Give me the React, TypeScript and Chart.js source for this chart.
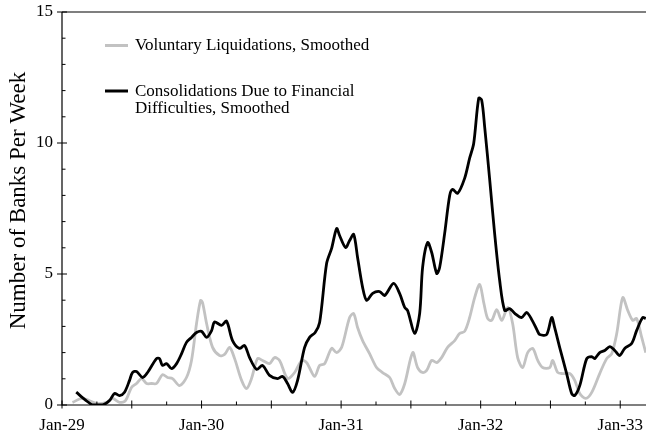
import React, { useEffect, useRef } from "react";
import { Chart, registerables } from "chart.js";

Chart.register(...registerables);

// Decimal years and banks per week
const consolYears = [
  1929.102, 1929.173, 1929.221, 1929.29, 1929.341, 1929.376, 1929.412, 1929.448, 1929.484, 1929.505,
  1929.534, 1929.577, 1929.613, 1929.677, 1929.699, 1929.72, 1929.749, 1929.785, 1929.821, 1929.857,
  1929.892, 1929.928, 1929.964, 1930.0, 1930.036, 1930.072, 1930.093, 1930.143, 1930.179, 1930.222,
  1930.272, 1930.308, 1930.344, 1930.394, 1930.437, 1930.487, 1930.545, 1930.581, 1930.616, 1930.652,
  1930.688, 1930.738, 1930.774, 1930.814, 1930.846, 1930.896, 1930.932, 1930.968, 1930.989, 1931.032,
  1931.061, 1931.09, 1931.118, 1931.154, 1931.183, 1931.226, 1931.276, 1931.312, 1931.376, 1931.419,
  1931.455, 1931.477, 1931.527, 1931.563, 1931.584, 1931.62, 1931.649, 1931.685, 1931.706, 1931.742,
  1931.778, 1931.799, 1931.835, 1931.885, 1931.921, 1931.95, 1931.986, 1932.007, 1932.029, 1932.065,
  1932.1, 1932.136, 1932.172, 1932.208, 1932.244, 1932.294, 1932.33, 1932.369, 1932.405, 1932.423,
  1932.473, 1932.509, 1932.53, 1932.566, 1932.616, 1932.652, 1932.674, 1932.71, 1932.76, 1932.796,
  1932.817, 1932.853, 1932.889, 1932.925, 1932.961, 1932.996, 1933.032, 1933.082, 1933.118, 1933.161,
  1933.183,
];
const consolValues = [
  0.49, 0.17, 0, 0, 0.17, 0.44, 0.36, 0.49, 0.94, 1.24,
  1.28, 1.05, 1.24, 1.77, 1.77, 1.51, 1.58, 1.39, 1.58, 1.96,
  2.39, 2.58, 2.77, 2.81, 2.58, 2.84, 3.17, 3.04, 3.2, 2.46,
  2.16, 2.27, 1.81, 1.36, 1.51, 1.13, 1.01, 1.09, 0.82, 0.48,
  0.94, 2.19, 2.58, 2.77, 3.15, 5.4, 5.98, 6.74, 6.47, 6.01,
  6.28, 6.51, 5.63, 4.49, 3.99, 4.26, 4.33, 4.18, 4.64, 4.26,
  3.73, 3.6, 2.73, 3.5, 5.25, 6.2, 5.82, 5.02, 5.25, 6.55,
  8.0, 8.23, 8.08, 8.65, 9.42, 9.98, 11.71, 11.64, 10.6, 8.58,
  6.55, 4.76, 3.61, 3.68, 3.5, 3.34, 3.53, 3.23, 2.85, 2.69,
  2.69, 3.34, 2.96, 2.2, 1.2, 0.44, 0.36, 0.74, 1.77, 1.85,
  1.77, 2.0, 2.08, 2.23, 2.08, 1.89, 2.16, 2.35, 2.85, 3.34,
  3.3,
];

const volYears = [
  1929.075, 1929.147, 1929.247, 1929.319, 1929.362, 1929.412, 1929.455, 1929.498, 1929.534, 1929.57,
  1929.606, 1929.642, 1929.677, 1929.72, 1929.756, 1929.792, 1929.842, 1929.892, 1929.928, 1929.964,
  1929.993, 1930.007, 1930.036, 1930.079, 1930.129, 1930.165, 1930.201, 1930.237, 1930.287, 1930.323,
  1930.358, 1930.401, 1930.437, 1930.487, 1930.523, 1930.559, 1930.616, 1930.667, 1930.717, 1930.753,
  1930.81, 1930.846, 1930.882, 1930.932, 1930.968, 1931.004, 1931.061, 1931.09, 1931.118, 1931.154,
  1931.204, 1931.254, 1931.297, 1931.348, 1931.384, 1931.419, 1931.455, 1931.513, 1931.548, 1931.584,
  1931.613, 1931.649, 1931.685, 1931.72, 1931.763, 1931.814, 1931.849, 1931.885, 1931.921, 1931.957,
  1931.993, 1932.022, 1932.05, 1932.079, 1932.115, 1932.151, 1932.194, 1932.229, 1932.265, 1932.301,
  1932.337, 1932.373, 1932.409, 1932.444, 1932.495, 1932.516, 1932.552, 1932.588, 1932.638, 1932.674,
  1932.71, 1932.753, 1932.796, 1932.853, 1932.903, 1932.939, 1932.975, 1933.018, 1933.054, 1933.09,
  1933.118, 1933.154, 1933.183,
];
const volValues = [
  0.1, 0.25, 0.06, 0.1, 0.25, 0.1, 0.17, 0.67, 0.82, 1.01,
  0.82, 0.82, 0.82, 1.16, 1.05, 1.01, 0.74, 1.05, 1.7, 3.11,
  3.99, 3.91, 3.11, 2.2, 1.89, 1.93, 2.2, 1.77, 0.94, 0.63,
  1.01, 1.77, 1.7, 1.58, 1.81, 1.7, 1.01, 1.24, 1.7, 1.62,
  1.09, 1.51, 1.58, 2.16, 2.0, 2.2, 3.34, 3.49, 2.96, 2.46,
  1.96, 1.43, 1.24, 1.05, 0.63, 0.4, 0.8, 2.0, 1.43, 1.24,
  1.32, 1.7, 1.62, 1.81, 2.2, 2.46, 2.73, 2.81, 3.34, 4.1,
  4.6, 3.91, 3.3, 3.23, 3.64, 3.23, 3.73, 3.11, 1.81, 1.43,
  2.0, 2.16, 1.7, 1.43, 1.43, 1.7, 1.24, 1.2, 1.2, 0.94,
  0.44, 0.25, 0.48, 1.2, 1.77, 1.96, 2.73, 4.1, 3.61, 3.23,
  3.3, 2.58, 2.0,
];

const tickYears = [1929, 1930, 1931, 1932, 1933];
const tickLabels = ["Jan-29", "Jan-30", "Jan-31", "Jan-32", "Jan-33"];
const yTicks = [0, 5, 10, 15];
const volLabel = ["Voluntary Liquidations, Smoothed"];
const consolLabel = ["Consolidations Due to Financial", "Difficulties, Smoothed"];
const yTitle = "Number of Banks Per Week";

const SERIF = '"Liberation Serif", "Times New Roman", serif';
const GREY = "#c2c2c2";

const decorPlugin = {
  id: "decor",
  afterDatasetsDraw(chart: any) {
    const { ctx, chartArea, scales } = chart;
    const xs = scales.x;
    const ys = scales.y;
    const left = chartArea.left;
    const base = ys.getPixelForValue(0);
    const top = ys.getPixelForValue(15);
    ctx.save();
    ctx.strokeStyle = "#000";
    ctx.lineWidth = 1.2;
    ctx.beginPath();
    ctx.moveTo(left, top);
    ctx.lineTo(chartArea.right, top);
    ctx.moveTo(left, top);
    ctx.lineTo(left, base);
    ctx.lineTo(chartArea.right, base);
    ctx.stroke();
    // x ticks every quarter
    ctx.lineWidth = 1;
    ctx.beginPath();
    for (let q = 0; q <= 18; q++) {
      const v = 1929 + q * 0.25;
      const px = xs.getPixelForValue(v);
      if (q % 2 === 0) {
        ctx.moveTo(px, base - 4.5);
        ctx.lineTo(px, base + 3.5);
      } else {
        ctx.moveTo(px, base - 3.5);
        ctx.lineTo(px, base);
      }
    }
    // y ticks
    for (let v = 0; v <= 15; v++) {
      const py = ys.getPixelForValue(v);
      if (v % 5 === 0) {
        ctx.moveTo(left - 5, py);
        ctx.lineTo(left + 5, py);
      } else {
        ctx.moveTo(left, py);
        ctx.lineTo(left + 3.5, py);
      }
    }
    ctx.stroke();
    ctx.restore();
  },
  afterDraw(chart: any) {
    const { ctx } = chart;
    ctx.save();
    // y title
    ctx.fillStyle = "#000";
    ctx.font = `23px ${SERIF}`;
    ctx.textAlign = "center";
    ctx.textBaseline = "alphabetic";
    ctx.translate(24.5, 200.5);
    ctx.rotate(-Math.PI / 2);
    ctx.fillText(yTitle, 0, 0);
    ctx.restore();

    ctx.save();
    ctx.lineWidth = 3;
    ctx.strokeStyle = GREY;
    ctx.beginPath();
    ctx.moveTo(105, 45.5);
    ctx.lineTo(128, 45.5);
    ctx.stroke();
    ctx.strokeStyle = "#000";
    ctx.beginPath();
    ctx.moveTo(105, 91);
    ctx.lineTo(128, 91);
    ctx.stroke();
    ctx.fillStyle = "#000";
    ctx.font = `17px ${SERIF}`;
    ctx.textAlign = "left";
    ctx.textBaseline = "middle";
    volLabel.forEach((t, i) => ctx.fillText(t, 135, 46 + i * 17));
    consolLabel.forEach((t, i) => ctx.fillText(t, 135, 91.5 + i * 17.5));
    ctx.restore();
  },
};

export default function App() {
  const ref = useRef<HTMLCanvasElement>(null);
  useEffect(() => {
    if (!ref.current) return;
    const chart = new Chart(ref.current, {
      type: "line",
      data: {
        datasets: [
          {
            label: "Consolidations Due to Financial Difficulties, Smoothed",
            data: consolYears.map((x, i) => ({ x, y: consolValues[i] })),
            borderColor: "#000",
            borderWidth: 2.8,
            pointRadius: 0,
            tension: 0.3,
            fill: false,
          },
          {
            label: "Voluntary Liquidations, Smoothed",
            data: volYears.map((x, i) => ({ x, y: volValues[i] })),
            borderColor: GREY,
            borderWidth: 2.8,
            pointRadius: 0,
            tension: 0.3,
            fill: false,
          },
        ],
      },
      options: {
        responsive: false,
        animation: false,
        devicePixelRatio: 1,
        layout: { padding: { top: 12, right: 30, left: 0, bottom: 0 } },
        plugins: {
          legend: { display: false },
          tooltip: { enabled: false },
        },
        scales: {
          x: {
            type: "linear",
            min: 1929,
            max: 1933.5,
            grid: { display: false, drawTicks: false, tickLength: 0 },
            border: { display: false },
            afterBuildTicks: (s: any) => {
              s.ticks = tickYears.map((v) => ({ value: v }));
            },
            afterFit: (s: any) => {
              s.height = 32;
            },
            ticks: {
              autoSkip: false,
              maxRotation: 0,
              minRotation: 0,
              padding: 10,
              color: "#000",
              font: { family: SERIF, size: 17 },
              callback: (v: any) => {
                const i = tickYears.indexOf(Number(v));
                return i >= 0 ? tickLabels[i] : "";
              },
            },
          },
          y: {
            min: 0,
            max: 15,
            grid: { display: false, drawTicks: false, tickLength: 0 },
            border: { display: false },
            afterBuildTicks: (s: any) => {
              s.ticks = yTicks.map((v) => ({ value: v }));
            },
            afterFit: (s: any) => {
              s.width = 62;
            },
            ticks: {
              padding: 9,
              color: "#000",
              font: { family: SERIF, size: 17, lineHeight: 0.1 },
            },
          },
        },
      },
      plugins: [decorPlugin],
    });
    return () => chart.destroy();
  }, []);
  return (
    <div
      style={{
        position: "absolute",
        left: 0,
        top: 0,
        width: 646,
        height: 437,
        overflow: "hidden",
        background: "#fff",
      }}
    >
      <canvas ref={ref} width={720} height={437} style={{ display: "block" }} />
    </div>
  );
}
